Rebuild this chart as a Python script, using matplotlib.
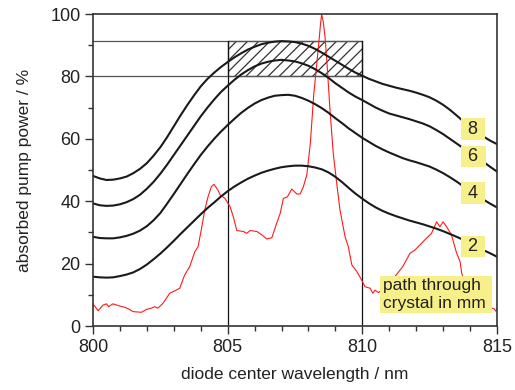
#!/usr/bin/env python
"""
Absorbed pump power vs. diode center wavelength for several crystal lengths
"""
import matplotlib
matplotlib.use('Agg')
import matplotlib.pyplot as plt
from matplotlib.patches import Rectangle

# wavelength grid of the absorption curves (nm), 0.25 nm steps
wavelength = [800 + 0.25 * i for i in range(61)]

# absorbed pump power (%) for each path length through the crystal
absorbed_8mm = [48.1, 47.3, 46.8, 46.9, 47.3, 47.9, 49.0, 50.4, 52.2, 54.6,
                57.3, 60.5, 64.0, 67.5, 70.8, 73.9, 76.8, 79.2, 81.2, 83.0,
                84.6, 86.1, 87.4, 88.6, 89.5, 90.3, 90.8, 91.15, 91.3, 91.2,
                91.0, 90.5, 89.8, 88.8, 87.6, 86.3, 85.0, 83.7, 82.4, 81.2,
                80.2, 79.2, 78.4, 77.6, 77.0, 76.4, 75.9, 75.4, 74.8, 74.1,
                73.3, 72.2, 70.9, 69.3, 67.5, 65.6, 63.8, 62.2, 60.7, 59.4,
                58.3]
absorbed_6mm = [39.3, 38.7, 38.5, 38.6, 39.0, 39.7, 40.7, 42.1, 44.0, 46.2,
                48.8, 51.7, 54.8, 57.9, 61.0, 64.1, 67.2, 70.0, 72.6, 75.0,
                77.0, 78.9, 80.6, 82.0, 83.2, 84.1, 84.7, 85.1, 85.3, 85.1,
                84.8, 84.2, 83.4, 82.3, 81.0, 79.5, 77.8, 76.3, 74.8, 73.5,
                72.4, 71.2, 70.0, 69.0, 68.1, 67.5, 66.9, 66.3, 65.6, 64.9,
                64.0, 62.8, 61.5, 60.0, 58.5, 57.0, 55.5, 54.0, 52.6, 51.0,
                49.5]
absorbed_4mm = [28.6, 28.2, 28.1, 28.1, 28.4, 28.9, 29.6, 30.6, 32.0, 33.9,
                36.2, 39.2, 42.3, 45.5, 48.7, 51.8, 54.8, 57.5, 60.0, 62.3,
                64.4, 66.4, 68.3, 69.9, 71.3, 72.4, 73.2, 73.8, 74.0, 74.1,
                73.8, 73.1, 72.2, 71.1, 69.8, 68.3, 66.6, 65.0, 63.3, 61.8,
                60.3, 59.0, 57.7, 56.6, 55.6, 54.7, 53.8, 53.1, 52.5, 51.8,
                51.1, 50.1, 49.0, 47.7, 46.3, 44.8, 43.3, 41.9, 40.5, 39.2,
                38.0]
absorbed_2mm = [15.8, 15.6, 15.5, 15.6, 16.0, 16.5, 17.2, 18.3, 19.7, 21.4,
                23.2, 25.2, 27.3, 29.5, 31.6, 33.7, 35.8, 37.8, 39.6, 41.5,
                43.2, 44.7, 46.0, 47.2, 48.2, 49.1, 49.8, 50.4, 50.9, 51.2,
                51.4, 51.4, 51.2, 50.8, 50.2, 49.2, 47.8, 46.1, 44.2, 42.4,
                40.8, 39.3, 38.0, 36.9, 36.0, 35.2, 34.5, 33.8, 33.2, 32.6,
                31.9, 31.2, 30.4, 29.5, 28.6, 27.6, 26.5, 25.4, 24.3, 23.3,
                22.2]
path_lengths = ['8', '6', '4', '2']
label_levels = [63.1, 54.3, 42.6, 25.5]

# diode emission spectrum (normalised, %)
spectrum_wl = [800.0, 800.19, 800.37, 800.5, 800.58, 800.74, 800.99, 801.18, 801.36, 801.49,
               801.8, 801.98, 802.16, 802.29, 802.41, 802.6, 802.85, 803.09, 803.22, 803.4,
               803.59, 803.78, 803.9, 804.02, 804.15, 804.27, 804.39, 804.49, 804.64, 804.72,
               804.9, 805.09, 805.21, 805.34, 805.58, 805.71, 805.83, 806.08, 806.27, 806.45,
               806.64, 806.82, 806.95, 807.07, 807.22, 807.38, 807.57, 807.69, 807.81, 807.94,
               808.07, 808.2, 808.28, 808.4, 808.45, 808.49, 808.55, 808.62, 808.68, 808.8,
               808.92, 809.05, 809.17, 809.36, 809.48, 809.61, 809.79, 809.94, 810.1, 810.29,
               810.39, 810.47, 810.6, 810.8, 811.0, 811.25, 811.5, 811.77, 811.96, 812.14,
               812.32, 812.45, 812.57, 812.76, 812.88, 813.0, 813.13, 813.31, 813.5, 813.63,
               813.69, 813.9, 814.3, 814.7, 814.9, 814.95, 815.0]
spectrum = [7.1, 4.9, 6.7, 7.1, 6.2, 7.1, 6.4, 6.0, 5.3, 4.6,
            4.4, 5.3, 5.7, 6.2, 5.7, 7.3, 10.5, 11.5, 12.1, 16.3,
            19.0, 23.8, 25.4, 30.8, 37.2, 41.4, 44.6, 45.4, 43.6, 42.0,
            40.9, 38.2, 35.0, 30.6, 30.3, 29.7, 30.6, 30.3, 29.2, 27.9,
            28.3, 32.9, 36.1, 40.9, 41.4, 43.9, 42.3, 42.3, 44.6, 48.5,
            58.6, 74.6, 81.5, 92.2, 97.0, 99.9, 97.5, 92.2, 85.3, 69.2,
            55.4, 45.7, 37.2, 28.6, 25.4, 19.6, 17.5, 15.3, 12.6, 12.1,
            10.5, 11.5, 10.7, 12.0, 13.5, 16.3, 19.0, 23.3, 24.4, 26.0,
            27.6, 28.7, 29.7, 33.4, 31.8, 33.4, 31.8, 29.2, 23.4, 20.6,
            16.9, 12.0, 8.0, 6.0, 5.5, 4.8, 5.5]

# target window: wavelength range and absorption range
window_wl = [805, 810]
window_abs = [80, 91.3]

YELLOW = '#f7ef8a'


def plot_chart(save_path):
    plt.rcParams['font.family'] = ['Liberation Sans', 'DejaVu Sans']
    plt.rcParams['hatch.linewidth'] = 0.9

    fig = plt.figure(figsize=(5.15, 3.9), dpi=100)
    ax = fig.add_axes([0.1806, 0.1641, 0.7844, 0.80])

    # target window
    ax.add_patch(Rectangle((window_wl[0], window_abs[0]), window_wl[1] - window_wl[0],
                           window_abs[1] - window_abs[0], facecolor='none',
                           edgecolor='#333333', hatch='///', linewidth=0.9, zorder=1))
    for level in window_abs:
        ax.plot([800, window_wl[1]], [level, level], color='#555555', linewidth=0.9, zorder=1)
    for wl in window_wl:
        ax.plot([wl, wl], [0, window_abs[1]], color='#111111', linewidth=0.9, zorder=1)

    # diode spectrum
    ax.plot(spectrum_wl, spectrum, color='#ff1a1a', linewidth=0.8, zorder=2)

    # absorption curves
    curves = [absorbed_8mm, absorbed_6mm, absorbed_4mm, absorbed_2mm]
    for values, name, level in zip(curves, path_lengths, label_levels):
        ax.plot(wavelength, values, color='#1a1a1a', linewidth=1.5, zorder=2,
                solid_joinstyle='round')
        ax.text(814.12, level, ' ' + name + ' ', fontsize=13, ha='center', va='center',
                color='#222222', zorder=4,
                bbox=dict(boxstyle='square,pad=0.12', facecolor=YELLOW, edgecolor='none'))

    ax.text(810.75, 10.1, 'path through \ncrystal in mm ', fontsize=12.5, ha='left',
            va='center', color='#222222', linespacing=1.3, zorder=4,
            bbox=dict(boxstyle='square,pad=0.12', facecolor=YELLOW, edgecolor='none'))

    ax.set_xlim(800, 815)
    ax.set_ylim(0, 100)
    ax.set_xticks([800, 805, 810, 815])
    ax.set_xticks(range(800, 816), minor=True)
    ax.set_yticks([0, 20, 40, 60, 80, 100])
    ax.set_yticks(range(0, 101, 10), minor=True)
    ax.tick_params(which='both', direction='out', color='#333333', width=1,
                   labelsize=13, labelcolor='#222222', top=False, right=False)
    ax.tick_params(which='major', length=6, pad=3)
    ax.tick_params(which='minor', length=3.5)
    for spine in ax.spines.values():
        spine.set_color('#333333')
        spine.set_linewidth(1.2)

    ax.set_xlabel('diode center wavelength / nm', fontsize=12.5, color='#222222', labelpad=8)
    ax.set_ylabel('absorbed pump power / %', fontsize=12.5, color='#222222', labelpad=13)

    fig.savefig(save_path, dpi=100)
    plt.close(fig)
    print(f"Chart saved to: {save_path}")


def main():
    plot_chart('out.png')


if __name__ == "__main__":
    main()
